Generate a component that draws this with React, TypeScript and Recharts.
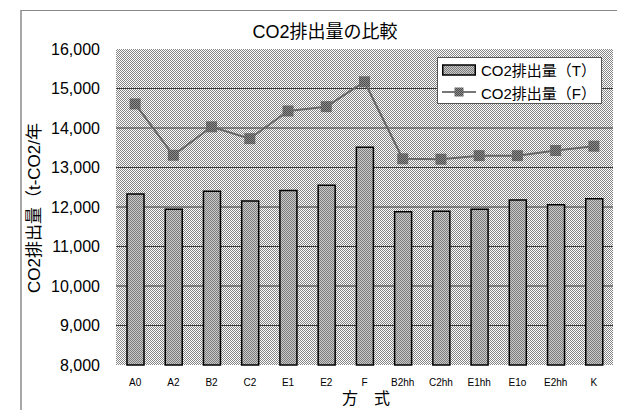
import React from 'react';
import {
  ComposedChart,
  Bar,
  Line,
  XAxis,
  YAxis,
  CartesianGrid,
  Legend,
} from 'recharts';

// 方式ごとのCO2排出量 (t-CO2/年)
const categories = ['A0', 'A2', 'B2', 'C2', 'E1', 'E2', 'F', 'B2hh', 'C2hh', 'E1hh', 'E1o', 'E2hh', 'K'];
const emissionT = [12330, 11940, 12400, 12150, 12420, 12550, 13510, 11880, 11890, 11940, 12180, 12060, 12210];
const emissionF = [14610, 13310, 14030, 13730, 14430, 14540, 15170, 13220, 13210, 13300, 13300, 13430, 13540];
const yTicks = [8000, 9000, 10000, 11000, 12000, 13000, 14000, 15000, 16000];

const seriesT = 'CO2排出量（T）';
const seriesF = 'CO2排出量（F）';

const data = categories.map((name, i) => ({
  name,
  t: emissionT[i],
  f: emissionF[i],
}));

const FONT = '"Liberation Sans", Arial, "Noto Sans CJK JP", sans-serif';

const fmt = (v: number) => v.toLocaleString('en-US');

const SquareDot = (props: any) => {
  const { cx, cy, index } = props;
  if (cx == null || cy == null) return null;
  return <rect key={`dot-${index}`} x={cx - 5.5} y={cy - 5.5} width={11} height={11} fill="url(#dotPat)" />;
};

const LegendBox = () => (
  <div
    style={{
      width: 163,
      height: 45,
      background: '#fff',
      border: '1px solid #555',
      fontFamily: FONT,
      fontSize: 15,
      color: '#000',
      boxSizing: 'content-box',
    }}
  >
    <div style={{ display: 'flex', alignItems: 'center', height: 23, paddingLeft: 4 }}>
      <svg width={34} height={12} style={{ marginRight: 5, flexShrink: 0 }}>
        <rect x={0.75} y={1} width={32.5} height={10} fill="url(#barPat)" stroke="#000" strokeWidth={1.5} />
      </svg>
      <span style={{ whiteSpace: 'nowrap' }}>{seriesT}</span>
    </div>
    <div style={{ display: 'flex', alignItems: 'center', height: 22, paddingLeft: 4 }}>
      <svg width={34} height={12} style={{ marginRight: 5, flexShrink: 0 }}>
        <line x1={0} y1={6} x2={34} y2={6} stroke="#777" strokeWidth={2} />
        <rect x={12.5} y={1.5} width={9} height={9} fill="url(#dotPat)" />
      </svg>
      <span style={{ whiteSpace: 'nowrap' }}>{seriesF}</span>
    </div>
  </div>
);

export default function App() {
  return (
    <div style={{ position: 'absolute', left: 0, top: 0, width: 617, height: 410, background: '#fff', overflow: 'hidden' }}>
      {/* chart frame */}
      <div
        style={{
          position: 'absolute',
          left: 20,
          top: 10,
          width: 620,
          height: 420,
          borderTop: '1px solid #8a8a8a',
          borderLeft: '2px solid #a8a8a8',
        }}
      />
      <ComposedChart
        width={617}
        height={410}
        data={data}
        margin={{ top: 49, right: 4, left: 0, bottom: 15 }}
        barCategoryGap="28%"
        style={{ position: 'absolute', left: 0, top: 0 }}
      >
        <defs>
          <pattern id="bgPat" width={2} height={2} patternUnits="userSpaceOnUse">
            <rect width={2} height={2} fill="#ffffff" />
            <rect width={1} height={1} fill="#858585" />
            <rect x={1} y={1} width={1} height={1} fill="#858585" />
          </pattern>
          <pattern id="barPat" width={2} height={2} patternUnits="userSpaceOnUse">
            <rect width={2} height={2} fill="#cacaca" />
            <rect width={1} height={1} fill="#7c7c7c" />
            <rect x={1} y={1} width={1} height={1} fill="#7c7c7c" />
          </pattern>
          <pattern id="dotPat" width={2} height={2} patternUnits="userSpaceOnUse">
            <rect width={2} height={2} fill="#8e8e8e" />
            <rect width={1} height={1} fill="#4a4a4a" />
            <rect x={1} y={1} width={1} height={1} fill="#4a4a4a" />
          </pattern>
        </defs>
        <CartesianGrid
          vertical={false}
          fill="url(#bgPat)"
          fillOpacity={1}
          stroke="#3a3a3a"
          strokeWidth={1}
          horizontalValues={[9000, 10000, 11000, 12000, 13000, 14000, 15000]}
        />
        <XAxis
          dataKey="name"
          interval={0}
          axisLine={false}
          tickLine={false}
          tickSize={0}
          tickMargin={14}
          height={30}
          tick={{ fontSize: 10, fill: '#000', fontFamily: FONT }}
        />
        <YAxis
          domain={[8000, 16000]}
          ticks={yTicks}
          interval={0}
          width={116}
          axisLine={false}
          tickLine={false}
          tickSize={0}
          tickMargin={16}
          tickFormatter={fmt}
          tick={{ fontSize: 16, fill: '#000', fontFamily: FONT }}
        />
        <Legend
          layout="vertical"
          align="center"
          verticalAlign="middle"
          wrapperStyle={{ left: 437, top: 57, width: 165, height: 47 }}
          content={() => <LegendBox />}
        />
        <Bar
          dataKey="t"
          name={seriesT}
          fill="url(#barPat)"
          stroke="#000"
          strokeWidth={1.5}
          barSize={17}
          isAnimationActive={false}
        />
        <Line
          dataKey="f"
          name={seriesF}
          type="linear"
          stroke="#666666"
          strokeWidth={2}
          dot={<SquareDot />}
          activeDot={false}
          isAnimationActive={false}
        />
      </ComposedChart>
      {/* title */}
      <div
        style={{
          position: 'absolute',
          left: 200,
          width: 250,
          top: 22,
          textAlign: 'center',
          fontFamily: FONT,
          fontSize: 18,
          lineHeight: '20px',
          color: '#000',
          whiteSpace: 'nowrap',
        }}
      >
        CO2排出量の比較
      </div>
      {/* y axis title */}
      <div
        style={{
          position: 'absolute',
          left: 35 - 100,
          top: 208 - 10,
          width: 200,
          height: 20,
          lineHeight: '20px',
          textAlign: 'center',
          transform: 'rotate(-90deg)',
          fontFamily: FONT,
          fontSize: 17,
          color: '#000',
          whiteSpace: 'nowrap',
        }}
      >
        CO2排出量（t-CO2/年
      </div>
      {/* x axis title */}
      <div
        style={{
          position: 'absolute',
          left: 316,
          width: 100,
          top: 389,
          textAlign: 'center',
          fontFamily: FONT,
          fontSize: 16,
          lineHeight: '20px',
          color: '#000',
          whiteSpace: 'nowrap',
        }}
      >
        方　式
      </div>
    </div>
  );
}
